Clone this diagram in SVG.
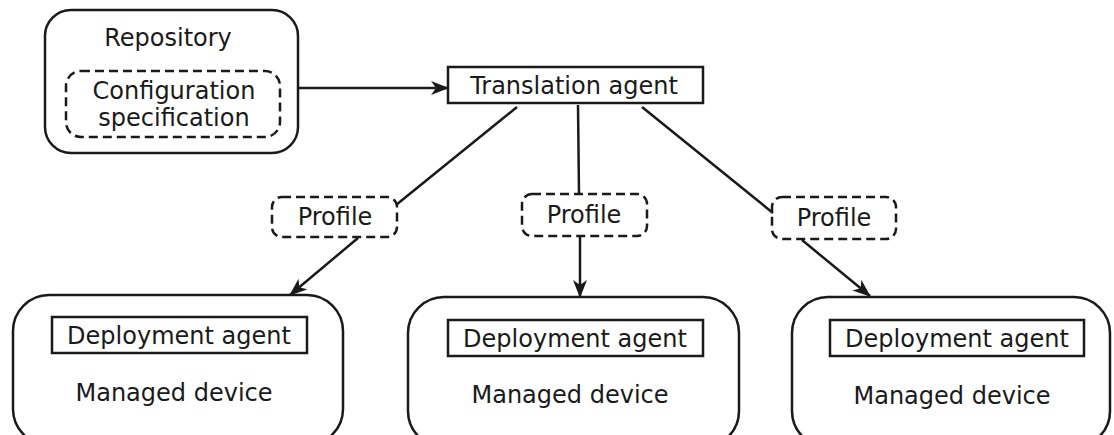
<svg xmlns="http://www.w3.org/2000/svg" width="1114" height="435" viewBox="0 0 1114 435">
<style>
text{font-family:"DejaVu Sans",sans-serif;font-size:24px;fill:#1a1a1a;text-anchor:middle}
.box{fill:#fff;stroke:#1a1a1a;stroke-width:2.5}
.dash{fill:#fff;stroke:#1a1a1a;stroke-width:2.5;stroke-dasharray:9,5}
.ln{fill:none;stroke:#1a1a1a;stroke-width:2.5}
</style>
<defs>
<marker id="ah" markerWidth="18" markerHeight="14" refX="17" refY="7" orient="auto" markerUnits="userSpaceOnUse">
<path d="M0,0 L18,7 L0,14 L5,7 z" fill="#1a1a1a"/>
</marker>
</defs>
<rect width="1114" height="435" fill="#fff"/>
<g id="repository">
<rect class="box" x="45" y="10" width="253" height="143" rx="26"/>
<text x="168" y="46">Repository</text>
</g>
<g id="config-spec">
<rect class="dash" x="66" y="71" width="214" height="66" rx="15"/>
<text x="174" y="99">Configuration</text>
<text x="174" y="126">specification</text>
</g>
<g id="translation-agent">
<rect class="box" x="448" y="67" width="255" height="36"/>
<text x="574" y="94">Translation agent</text>
</g>
<g id="profile-left">
<rect class="dash" x="272" y="197" width="125" height="40" rx="10"/>
<text x="335" y="225">Profile</text>
</g>
<g id="profile-mid">
<rect class="dash" x="522" y="194" width="125" height="42" rx="10"/>
<text x="584" y="223">Profile</text>
</g>
<g id="profile-right">
<rect class="dash" x="772" y="197" width="124" height="42" rx="10"/>
<text x="834" y="226">Profile</text>
</g>
<g id="device-left">
<rect class="box" x="13" y="295" width="330" height="150" rx="36"/>
<rect class="box" x="52" y="317" width="255" height="36"/>
<text x="179" y="344">Deployment agent</text>
<text x="174" y="401">Managed device</text>
</g>
<g id="device-mid">
<rect class="box" x="408" y="297" width="331" height="150" rx="36"/>
<rect class="box" x="448" y="320" width="255" height="36"/>
<text x="575" y="347">Deployment agent</text>
<text x="570" y="403">Managed device</text>
</g>
<g id="device-right">
<rect class="box" x="792" y="297" width="318" height="150" rx="36"/>
<rect class="box" x="830" y="320" width="254" height="36"/>
<text x="957" y="347">Deployment agent</text>
<text x="952" y="404">Managed device</text>
</g>
<g id="connectors">
<line class="ln" x1="298" y1="88" x2="448" y2="88" marker-end="url(#ah)"/>
<line class="ln" x1="517" y1="107" x2="396" y2="205"/>
<line class="ln" x1="578" y1="105" x2="579" y2="194"/>
<line class="ln" x1="642" y1="107" x2="773" y2="213"/>
<line class="ln" x1="358" y1="238" x2="290" y2="295" marker-end="url(#ah)"/>
<line class="ln" x1="580" y1="237" x2="580" y2="297" marker-end="url(#ah)"/>
<line class="ln" x1="802" y1="240" x2="870" y2="296" marker-end="url(#ah)"/>
</g>
</svg>
